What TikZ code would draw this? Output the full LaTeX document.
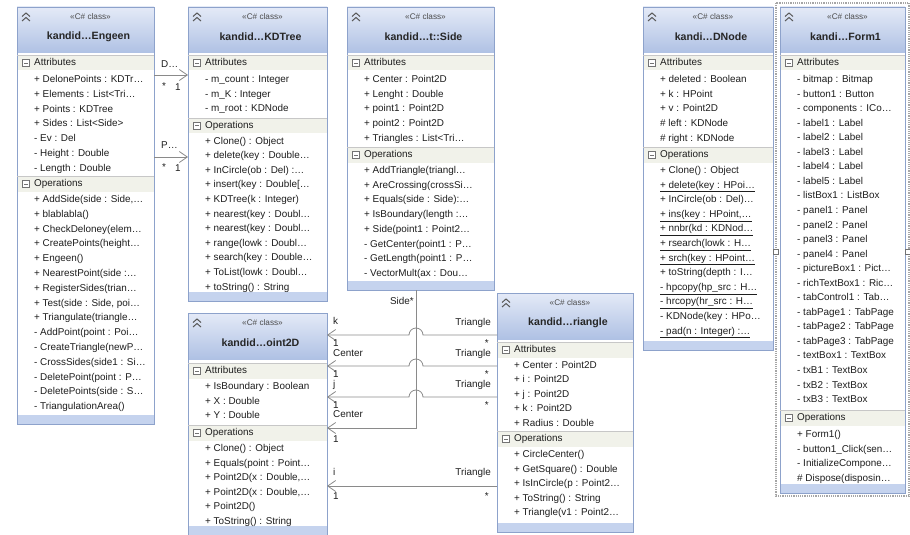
\documentclass[tikz,border=0pt]{standalone}
\usepackage{fontspec}
\usepackage{tikz}
\usetikzlibrary{arrows.meta}
\newfontfamily\umlfont{Liberation Sans}

\definecolor{boxline}{HTML}{8DA2CB}
\definecolor{headtop}{HTML}{E4EAF7}
\definecolor{headbot}{HTML}{AFC1E4}
\definecolor{bandfill}{HTML}{F1F2EA}
\definecolor{footfill}{HTML}{C5D3EE}
\definecolor{membertext}{HTML}{1E1E1E}
\definecolor{linkline}{HTML}{8A8A8A}

\tikzstyle{classbox} = [rectangle, draw=boxline, line width=0.9pt, inner sep=0pt, outer sep=0pt]
\tikzstyle{stereo} = [inner sep=0pt, font=\umlfont\fontsize{8.2}{10}\selectfont, text=black!70]
\tikzstyle{classname} = [inner sep=0pt, font=\umlfont\bfseries\fontsize{10.6}{12}\selectfont, text=black!85]
\tikzstyle{member} = [anchor=west, inner sep=0pt, text height=7.5pt, text depth=2.5pt, font=\umlfont\fontsize{9.9}{11}\selectfont, text=membertext]
\tikzstyle{role} = [inner sep=0pt, text height=7.5pt, text depth=2.5pt, font=\umlfont\fontsize{9.9}{11}\selectfont, text=membertext]
\tikzstyle{chevron} = [draw=black!65, line width=1pt]
\tikzstyle{minusbox} = [draw=black!55, line width=0.5pt]
\tikzstyle{bandline} = [draw=black!22, line width=0.6pt]
\tikzstyle{assoc} = [draw=linkline, line width=0.8pt, -{Straight Barb[length=8pt,width=11pt]}]
\tikzstyle{handle} = [rectangle, draw=black!55, fill=white, minimum size=5pt, inner sep=0pt]

% class frame: name, left, top, right, bottom, title
\newcommand{\classframe}[6]{%
  \fill[white] (#2,#3) rectangle (#4,#5);
  \shade[top color=headtop, bottom color=headbot] (#2,#3) rectangle (#4,{#3+46});
  \fill[footfill] (#2,{#5-9}) rectangle (#4,#5);
  \node[classbox, minimum width={#4-#2}, minimum height={#5-#3}] (#1) at ({(#2+#4)/2},{(#3+#5)/2}) {};
  \draw[chevron] ({#2+5},{#3+9.5}) -- ({#2+9},{#3+6}) -- ({#2+13},{#3+9.5});
  \draw[chevron] ({#2+5},{#3+14}) -- ({#2+9},{#3+10.5}) -- ({#2+13},{#3+14});
  \node[stereo] (#1-stereo) at ({(#2+#4)/2+5},{#3+10}) {«C\# class»};
  \node[classname] (#1-title) at ({(#2+#4)/2+3},{#3+30}) {#6};
}
% section band: name, left, right, y, label
\newcommand{\classband}[5]{%
  \fill[bandfill] ({#2+0.5},{#4-7.5}) rectangle ({#3-0.5},{#4+7.5});
  \draw[bandline] (#2,{#4-7.5}) -- (#3,{#4-7.5});
  \draw[minusbox, fill=white] ({#2+5.5},{#4-3.5}) rectangle ({#2+12.5},{#4+3.5});
  \draw[minusbox] ({#2+7},#4) -- ({#2+11},#4);
  \node[member] (#1) at ({#2+17},#4) {#5};
}
% member rows: name prefix, left, first y, step, list
\newcommand{\classrows}[5]{%
  \foreach \txt [count=\i from 0] in {#5}
    \node[member] (#1-\i) at ({#2+17},{#3+\i*#4}) {\txt};
}

\begin{document}
\begin{tikzpicture}[x=1pt, y=-1pt]
\useasboundingbox (0,0) rectangle (910,535);

% Engeen
\classframe{engeen}{17}{7}{154}{424}{kandid\ldots{}Engeen}
\classband{engeen-attr}{17}{154}{63}{Attributes}
\classrows{engeen-a}{17}{80}{14.8}{+ DelonePoints : KDTr\ldots, + Elements : List<Tri\ldots, + Points : KDTree, + Sides : List<Side>, - Ev : Del, - Height : Double, - Length : Double}
\classband{engeen-ops}{17}{154}{184}{Operations}
\classrows{engeen-o}{17}{200}{14.8}{{+ AddSide(side : Side,\ldots}, + blablabla(), + CheckDeloney(elem\ldots, + CreatePoints(height\ldots, + Engeen(), + NearestPoint(side :\ldots, + RegisterSides(trian\ldots, {+ Test(side : Side, poi\ldots}, + Triangulate(triangle\ldots, - AddPoint(point : Poi\ldots, - CreateTriangle(newP\ldots, - CrossSides(side1 : Si\ldots, - DeletePoint(point : P\ldots, - DeletePoints(side : S\ldots, - TriangulationArea()}

% KDTree
\classframe{kdtree}{188}{7}{327}{301}{kandid\ldots{}KDTree}
\classband{kdtree-attr}{188}{327}{63}{Attributes}
\classrows{kdtree-a}{188}{80}{14.7}{- m\_count : Integer, - m\_K : Integer, - m\_root : KDNode}
\classband{kdtree-ops}{188}{327}{125.5}{Operations}
\classrows{kdtree-o}{188}{141.5}{14.6}{+ Clone() : Object, + delete(key : Double\ldots, + InCircle(ob : Del) :\ldots, {+ insert(key : Double[\ldots}, + KDTree(k : Integer), + nearest(key : Doubl\ldots, + nearest(key : Doubl\ldots, + range(lowk : Doubl\ldots, + search(key : Double\ldots, + ToList(lowk : Doubl\ldots, + toString() : String}

% Side
\classframe{side}{347}{7}{494}{290}{kandid\ldots{}t::Side}
\classband{side-attr}{347}{494}{63}{Attributes}
\classrows{side-a}{347}{80}{14.7}{+ Center : Point2D, + Lenght : Double, + point1 : Point2D, + point2 : Point2D, + Triangles : List<Tri\ldots}
\classband{side-ops}{347}{494}{155}{Operations}
\classrows{side-o}{347}{171}{14.7}{+ AddTriangle(triangl\ldots, + AreCrossing(crossSi\ldots, + Equals(side : Side):\ldots, + IsBoundary(length :\ldots, + Side(point1 : Point2\ldots, - GetCenter(point1 : P\ldots, - GetLength(point1 : P\ldots, - VectorMult(ax : Dou\ldots}

% Point2D
\classframe{point}{188}{313}{327}{535}{kandid\ldots{}oint2D}
\classband{point-attr}{188}{327}{371}{Attributes}
\classrows{point-a}{188}{387}{14.7}{+ IsBoundary : Boolean, + X : Double, + Y : Double}
\classband{point-ops}{188}{327}{433}{Operations}
\classrows{point-o}{188}{449}{14.6}{+ Clone() : Object, + Equals(point : Point\ldots, {+ Point2D(x : Double,\ldots}, {+ Point2D(x : Double,\ldots}, + Point2D(), + ToString() : String}

% Triangle
\classframe{triangle}{497}{293}{633}{532}{kandid\ldots{}riangle}
\classband{triangle-attr}{497}{633}{350}{Attributes}
\classrows{triangle-a}{497}{366}{14.4}{+ Center : Point2D, + i : Point2D, + j : Point2D, + k : Point2D, + Radius : Double}
\classband{triangle-ops}{497}{633}{439}{Operations}
\classrows{triangle-o}{497}{455}{14.6}{+ CircleCenter(), + GetSquare() : Double, + IsInCircle(p : Point2\ldots, + ToString() : String, + Triangle(v1 : Point2\ldots}

% KDNode
\classframe{kdnode}{643}{7}{773}{350}{kandi\ldots{}DNode}
\classband{kdnode-attr}{643}{773}{63}{Attributes}
\classrows{kdnode-a}{643}{80}{14.7}{+ deleted : Boolean, + k : HPoint, + v : Point2D, \# left : KDNode, \# right : KDNode}
\classband{kdnode-ops}{643}{773}{155}{Operations}
\classrows{kdnode-o}{643}{171}{14.6}{+ Clone() : Object, \underline{+ delete(key : HPoi\ldots}, + InCircle(ob : Del)\ldots, {\underline{+ ins(key : HPoint,\ldots}}, \underline{+ nnbr(kd : KDNod\ldots}, \underline{+ rsearch(lowk : H\ldots}, \underline{+ srch(key : HPoint\ldots}, + toString(depth : I\ldots, \underline{- hpcopy(hp\_src : H\ldots}, \underline{- hrcopy(hr\_src : H\ldots}, - KDNode(key : HPo\ldots, \underline{- pad(n : Integer) :\ldots}}

% Form1 (selected)
\draw[densely dotted, black!35, line width=1.2pt] (776,3) rectangle (909,496);
\classframe{form}{780}{7}{905}{493}{kandi\ldots{}Form1}
\classband{form-attr}{780}{905}{63}{Attributes}
\classrows{form-a}{780}{80}{14.55}{- bitmap : Bitmap, - button1 : Button, - components : ICo\ldots, - label1 : Label, - label2 : Label, - label3 : Label, - label4 : Label, - label5 : Label, - listBox1 : ListBox, - panel1 : Panel, - panel2 : Panel, - panel3 : Panel, - panel4 : Panel, - pictureBox1 : Pict\ldots, - richTextBox1 : Ric\ldots, - tabControl1 : Tab\ldots, - tabPage1 : TabPage, - tabPage2 : TabPage, - tabPage3 : TabPage, - textBox1 : TextBox, - txB1 : TextBox, - txB2 : TextBox, - txB3 : TextBox}
\classband{form-ops}{780}{905}{418}{Operations}
\classrows{form-o}{780}{435}{14.6}{+ Form1(), - button1\_Click(sen\ldots, - InitializeCompone\ldots, \# Dispose(disposin\ldots}
\node[handle] (form-hl) at (776,252) {};
\node[handle] (form-hr) at (908,252) {};

% link heights
\coordinate (y-dp) at (0,75);
\coordinate (y-pt) at (0,157);
\coordinate (y-k) at (0,335);
\coordinate (y-c) at (0,366);
\coordinate (y-j) at (0,397);
\coordinate (y-sc) at (0,428);
\coordinate (y-i) at (0,486);
\coordinate (side-x) at (416,0);

% Engeen -> KDTree
\draw[assoc] (engeen.east |- y-dp) -- (kdtree.west |- y-dp);
\node[role, anchor=west] (dp-name) at (161,65) {D\ldots};
\node[role] (dp-many) at (164,87) {*};
\node[role] (dp-one) at (178,88) {1};
\draw[assoc] (engeen.east |- y-pt) -- (kdtree.west |- y-pt);
\node[role, anchor=west] (pt-name) at (161,146) {P\ldots};
\node[role] (pt-many) at (164,168) {*};
\node[role] (pt-one) at (178,169) {1};

% Side -> Point2D
\draw[assoc] (side-x |- side.south) |- (point.east |- y-sc);
\node[role, anchor=east] (sc-side) at (414,302) {Side*};
\node[role, anchor=west] (sc-name) at (333,415) {Center};
\node[role, anchor=west] (sc-one) at (333,440) {1};

% Triangle -> Point2D
\draw[assoc] (triangle.west |- y-k) -- (423,335) arc[start angle=0, end angle=-180, radius=7] -- (point.east |- y-k);
\draw[assoc] (triangle.west |- y-c) -- (423,366) arc[start angle=0, end angle=-180, radius=7] -- (point.east |- y-c);
\draw[assoc] (triangle.west |- y-j) -- (423,397) arc[start angle=0, end angle=-180, radius=7] -- (point.east |- y-j);
\draw[assoc] (triangle.west |- y-i) -- (point.east |- y-i);

\node[role, anchor=west] (k-name) at (333,322) {k};
\node[role, anchor=west] (k-one) at (333,344) {1};
\node[role, anchor=west] (c-name) at (333,354) {Center};
\node[role, anchor=west] (c-one) at (333,375) {1};
\node[role, anchor=west] (j-name) at (333,385) {j};
\node[role, anchor=west] (j-one) at (333,406) {1};
\node[role, anchor=west] (i-name) at (333,473) {i};
\node[role, anchor=west] (i-one) at (333,497) {1};

\node[role, anchor=east] (k-tri) at (491,323) {Triangle};
\node[role, anchor=east] (k-many) at (489,344) {*};
\node[role, anchor=east] (c-tri) at (491,354) {Triangle};
\node[role, anchor=east] (c-many) at (489,375) {*};
\node[role, anchor=east] (j-tri) at (491,385) {Triangle};
\node[role, anchor=east] (j-many) at (489,406) {*};
\node[role, anchor=east] (i-tri) at (491,473) {Triangle};
\node[role, anchor=east] (i-many) at (489,497) {*};
\end{tikzpicture}
\end{document}
